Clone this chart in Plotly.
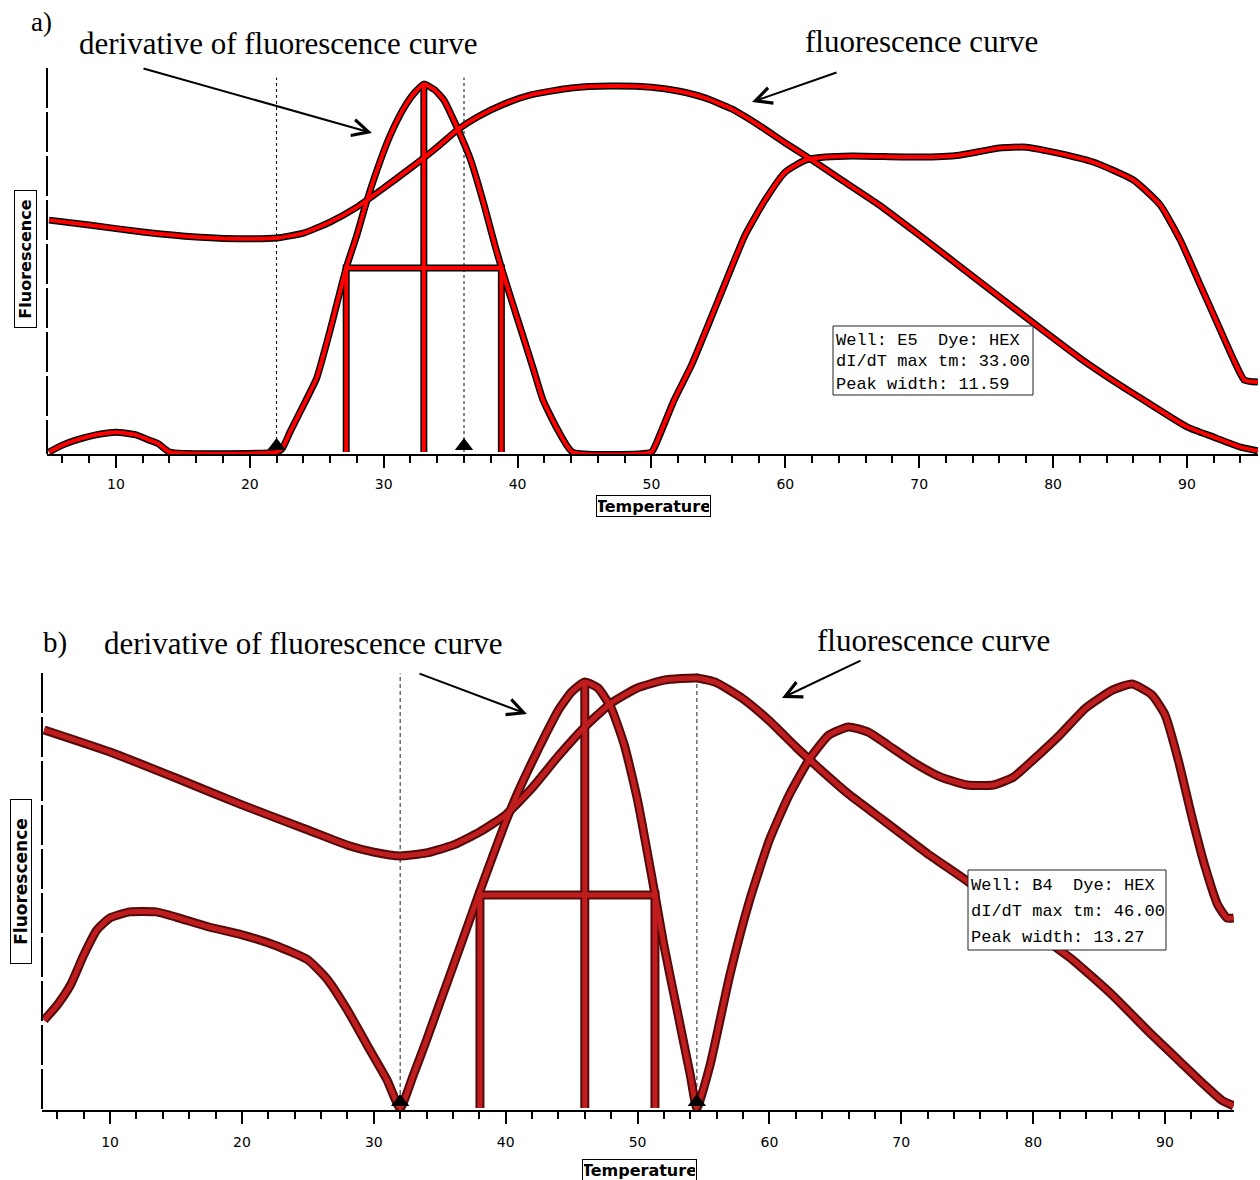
import plotly.graph_objects as go

W, H = 1260, 1180

# ---------------- panel a) : well E5, HEX ----------------
a_deriv_temp = [5, 6, 7, 8.5, 10, 11.5, 12.5, 13.2, 14, 22, 22.4, 23, 24.2, 25, 26, 27.2, 28, 28.6,
                29.5, 30.5, 31.5, 32.3, 33, 33.8, 34.5, 35.5, 36.5, 37.5, 38.3, 38.8, 39.5, 40.5,
                41.2, 41.9, 43, 44.1, 50, 50.3, 51.7, 53, 55, 57, 58.5, 60, 61.5, 63, 65, 70, 73,
                76, 78, 80, 83, 86, 88, 89.5, 91, 92.5, 93.5, 94.3, 95.3]
a_deriv = [0, 1.8, 3.1, 4.5, 5.2, 4.5, 3.1, 2.1, 0, 0, 0.8, 5.2, 13.6, 19.4, 31.9, 48.2, 56.8, 64.1,
           73.8, 83.0, 90.0, 94.0, 96.3, 94.8, 92.1, 84.8, 76.4, 64.7, 54.2, 48.2, 40.3, 29.3,
           21.5, 13.6, 5.8, 0, 0, 1.8, 13.6, 22.8, 39.8, 56.8, 66.0, 73.3, 76.4, 77.2, 77.5, 77.2, 77.7,
           79.6, 79.8, 78.5, 75.9, 71.2, 64.7, 55.5, 43.7, 31.9, 24.1, 18.8, 18.3]
a_fluor_temp = [5, 8, 12, 16, 20, 22, 24, 26, 28, 30, 32, 34, 35.5, 37, 39, 41, 44, 47, 50, 52,
                54, 56, 58, 60, 62, 64, 67, 70, 73, 76, 79, 82, 85, 87, 90, 92, 94, 95.3]
a_fluor = [60.7, 59.4, 57.6, 56.3, 55.8, 56.0, 57.3, 60.2, 64.1, 69.1, 74.3, 79.8, 84.3, 87.7,
           91.1, 93.5, 95.3, 95.8, 95.5, 94.5, 92.7, 89.8, 85.6, 80.9, 76.4, 71.7, 64.7, 56.8,
           48.7, 40.6, 32.5, 24.6, 17.5, 13.1, 6.6, 3.9, 1.3, 0.3]
a_tm = 33.00
a_width = 11.59
a_left = 27.2
a_limits = [22, 36]
a_info = ["Well:\u00a0E5\u00a0\u00a0Dye:\u00a0HEX", "dI/dT\u00a0max\u00a0tm:\u00a033.00",
          "Peak\u00a0width:\u00a011.59"]

# ---------------- panel b) : well B4, HEX ----------------
b_deriv_temp = [5, 6, 7, 8, 9, 10, 11.5, 13.5, 15, 17.5, 20, 22.5, 25, 26.5, 28, 29.5, 31, 32,
                33, 34, 35, 36, 37, 38, 39, 40, 41, 42, 43, 44, 45, 46, 47, 48, 49, 50, 51.3,
                52, 53, 54, 54.5, 55.5, 57, 58.5, 60, 61.5, 63, 64.5, 66, 67.5, 69, 71, 73, 75,
                77, 78.5, 80, 82, 84, 86, 87.5, 89, 90, 91, 92, 93, 94, 94.7, 95.2]
b_deriv = [20.3, 23.8, 28.4, 35.3, 41.1, 43.9, 45.3, 45.3, 44.1, 41.8, 40.0, 37.6, 34.2, 29.6,
           22.6, 14.5, 6.5, 0, 7.6, 15.7, 24.2, 32.6, 41.1, 49.7, 58.0, 66.1, 73.4, 79.9, 86.1,
           91.9, 96.1, 98.4, 97.0, 92.4, 83.8, 71.1, 49.7, 37.6, 22.6, 7.6, 0, 9.9, 30.7, 48.0,
           61.9, 72.3, 80.4, 86.1, 88.0, 86.8, 83.8, 79.7, 76.4, 74.6, 74.6, 76.4, 80.4, 86.1,
           92.4, 96.5, 97.9, 95.4, 90.8, 80.4, 67.7, 56.1, 46.9, 43.9, 43.9]
b_fluor_temp = [5, 10, 15, 20, 25, 28, 30, 32, 34, 36, 38, 40, 42, 44, 46, 48, 50, 52, 54.5, 56,
                58, 60, 62, 64, 66, 68, 70, 72, 75, 78, 80, 83, 86, 89, 91, 93, 94.3, 95.2]
b_fluor = [87.3, 82.2, 76.2, 70.0, 64.2, 60.7, 59.1, 58.2, 58.9, 60.7, 63.7, 67.7, 73.9, 81.3,
           88.0, 93.5, 97.0, 98.8, 99.3, 98.2, 94.5, 89.4, 83.4, 77.8, 72.5, 67.9, 63.3, 58.7,
           52.4, 45.5, 40.9, 34.2, 26.1, 16.9, 11.1, 5.3, 1.8, 0.5]
b_tm = 46.00
b_width = 13.27
b_left = 38.05
b_limits = [32, 54.5]
b_info = ["Well:\u00a0B4\u00a0\u00a0Dye:\u00a0HEX", "dI/dT\u00a0max\u00a0tm:\u00a046.00",
          "Peak\u00a0width:\u00a013.27"]


def fx(px):
    return px / W


def fy(py):
    return 1 - py / H


fig = go.Figure()


def outlined(xs, ys, xa, ya, edge, core, w_edge, w_core, layer):
    """Thick curve drawn as a dark edge stroke with a coloured core on top."""
    layer[0].append(go.Scatter(x=xs, y=ys, xaxis=xa, yaxis=ya, mode="lines",
                               line=dict(color=edge, width=w_edge, shape="spline", smoothing=0.5),
                               hoverinfo="skip", showlegend=False))
    layer[1].append(go.Scatter(x=xs, y=ys, xaxis=xa, yaxis=ya, mode="lines",
                               line=dict(color=core, width=w_core, shape="spline", smoothing=0.5),
                               hoverinfo="skip", showlegend=False))


def straight(xs, ys, xa, ya, edge, core, w_edge, w_core, layer):
    layer[0].append(go.Scatter(x=xs, y=ys, xaxis=xa, yaxis=ya, mode="lines",
                               line=dict(color=edge, width=w_edge), hoverinfo="skip",
                               showlegend=False))
    layer[1].append(go.Scatter(x=xs, y=ys, xaxis=xa, yaxis=ya, mode="lines",
                               line=dict(color=core, width=w_core), hoverinfo="skip",
                               showlegend=False))


def panel(dt, dv, ft, fv, tm, width, left, limits, xa, ya, edge, core, w_edge, w_core, tri_off):
    layer = ([], [])
    peak = max(dv)
    half = peak / 2
    right = left + width
    outlined(ft, fv, xa, ya, edge, core, w_edge, w_core, layer)
    outlined(dt, dv, xa, ya, edge, core, w_edge, w_core, layer)
    straight([left, left, right, right], [0, half, half, 0], xa, ya, edge, core, w_edge, w_core, layer)
    straight([tm, tm], [0, peak], xa, ya, edge, core, w_edge, w_core, layer)
    for t in layer[0] + layer[1]:
        fig.add_trace(t)
    fig.add_trace(go.Scatter(x=limits, y=[tri_off] * len(limits), xaxis=xa, yaxis=ya,
                             mode="markers", cliponaxis=False,
                             marker=dict(symbol="triangle-up", size=16, color="black"),
                             hoverinfo="skip", showlegend=False))


panel(a_deriv_temp, a_deriv, a_fluor_temp, a_fluor, a_tm, a_width, a_left, a_limits,
      "x", "y", "#000000", "#ff0000", 7, 4, 1.6)
panel(b_deriv_temp, b_deriv, b_fluor_temp, b_fluor, b_tm, b_width, b_left, b_limits,
      "x2", "y2", "#520a0a", "#c01e1e", 9, 5, 1.4)

tickfont = dict(family="DejaVu Sans", size=14, color="black")


def xaxis(domain, rng, anchor, standoff):
    return dict(domain=domain, range=rng, anchor=anchor, showgrid=False, zeroline=False,
                showline=True, linecolor="black", linewidth=2, ticks="outside", ticklen=12,
                tickwidth=1.5, tickcolor="black", dtick=10, tick0=0, tickfont=tickfont,
                ticklabelstandoff=standoff,
                minor=dict(dtick=2, tick0=0, ticks="outside", ticklen=7, tickwidth=1.5,
                           tickcolor="black", showgrid=False))


def yaxis(domain, rng, anchor):
    return dict(domain=domain, range=rng, anchor=anchor, showgrid=False, zeroline=False,
                showline=False, showticklabels=False, ticks="")


fig.update_layout(
    width=W, height=H, margin=dict(l=0, r=0, t=0, b=0),
    paper_bgcolor="white", plot_bgcolor="white", showlegend=False,
    xaxis=xaxis([fx(47), fx(1258)], [4.85, 95.31], "y", 4),
    yaxis=yaxis([fy(454), fy(68)], [-0.52, 100.52], "x"),
    xaxis2=xaxis([fx(42), fx(1234)], [4.84, 95.23], "y2", 6),
    yaxis2=yaxis([fy(1110), fy(673)], [-0.46, 100.46], "x2"),
)

shapes = []
# dashed left axes
shapes.append(dict(type="line", xref="paper", yref="paper", x0=fx(47), x1=fx(47),
                   y0=fy(68), y1=fy(454), line=dict(color="black", width=2, dash="40px,4px")))
shapes.append(dict(type="line", xref="paper", yref="paper", x0=fx(42), x1=fx(42),
                   y0=fy(673), y1=fy(1110), line=dict(color="black", width=2, dash="40px,4px")))
# melt-region limit markers
for t in a_limits:
    shapes.append(dict(type="line", xref="x", yref="y", x0=t, x1=t, y0=0, y1=98, layer="below",
                       line=dict(color="black", width=1, dash="3px,3px")))
for t in b_limits:
    shapes.append(dict(type="line", xref="x2", yref="y2", x0=t, x1=t, y0=0, y1=100.4, layer="below",
                       line=dict(color="#222222", width=1, dash="4px,3px")))
# info boxes
shapes.append(dict(type="rect", xref="paper", yref="paper", x0=fx(833), x1=fx(1033),
                   y0=fy(395), y1=fy(326), fillcolor="white", layer="above",
                   line=dict(color="#222222", width=1)))
shapes.append(dict(type="rect", xref="paper", yref="paper", x0=fx(968), x1=fx(1166),
                   y0=fy(950), y1=fy(870), fillcolor="white", layer="above",
                   line=dict(color="#222222", width=1)))
fig.update_layout(shapes=shapes)

ann = []
mono = dict(family="Liberation Mono", size=17, color="black")
for i, line in enumerate(a_info):
    ann.append(dict(text=line, xref="paper", yref="paper", x=fx(834), y=fy(340 + 22 * i),
                    xanchor="left", yanchor="middle", showarrow=False, font=mono))
for i, line in enumerate(b_info):
    ann.append(dict(text=line, xref="paper", yref="paper", x=fx(969), y=fy(885 + 26 * i),
                    xanchor="left", yanchor="middle", showarrow=False, font=mono))

bold = dict(family="DejaVu Sans", size=16, color="black")
boxed = dict(xref="paper", yref="paper", xanchor="center", yanchor="middle", showarrow=False,
             bordercolor="black", borderwidth=1, borderpad=1, bgcolor="white")
ann.append(dict(boxed, text="<b>Fluorescence</b>", x=fx(25), y=fy(259), textangle=-90,
                font=bold, width=134, height=19))
ann.append(dict(boxed, text="<b>Fluorescence</b>", x=fx(21), y=fy(882), textangle=-90,
                font=dict(bold, size=17), width=161, height=18))
ann.append(dict(boxed, text="<b>Temperature</b>", x=fx(653), y=fy(506), font=bold,
                width=111, height=18))
ann.append(dict(boxed, text="<b>Temperature</b>", x=fx(639), y=fy(1170), font=bold,
                width=111, height=18))

serif = dict(family="Liberation Serif", size=31, color="black")
labels = [("a)", 41, 22, 27), ("derivative of fluorescence curve", 278, 43, 31),
          ("fluorescence curve", 922, 42, 31), ("b)", 55, 642, 29),
          ("derivative of fluorescence curve", 303, 644, 31), ("fluorescence curve", 933, 640, 31)]
for txt, x, y, s in labels:
    ann.append(dict(text=txt, xref="paper", yref="paper", x=fx(x), y=fy(y), showarrow=False,
                    xanchor="center", yanchor="middle", font=dict(serif, size=s)))

arrows = [((142, 68), (372, 133)), ((838, 72), (752, 102)),
          ((418, 673), (527, 714)), ((862, 660), (782, 698))]
for (tx, ty), (hx, hy) in arrows:
    ann.append(dict(text="", xref="paper", yref="paper", x=fx(hx), y=fy(hy), axref="pixel",
                    ayref="pixel", ax=tx - hx, ay=ty - hy, showarrow=True, arrowhead=5,
                    arrowsize=1.6, arrowwidth=2, arrowcolor="black"))
fig.update_layout(annotations=ann)

fig.write_html("out.html")
